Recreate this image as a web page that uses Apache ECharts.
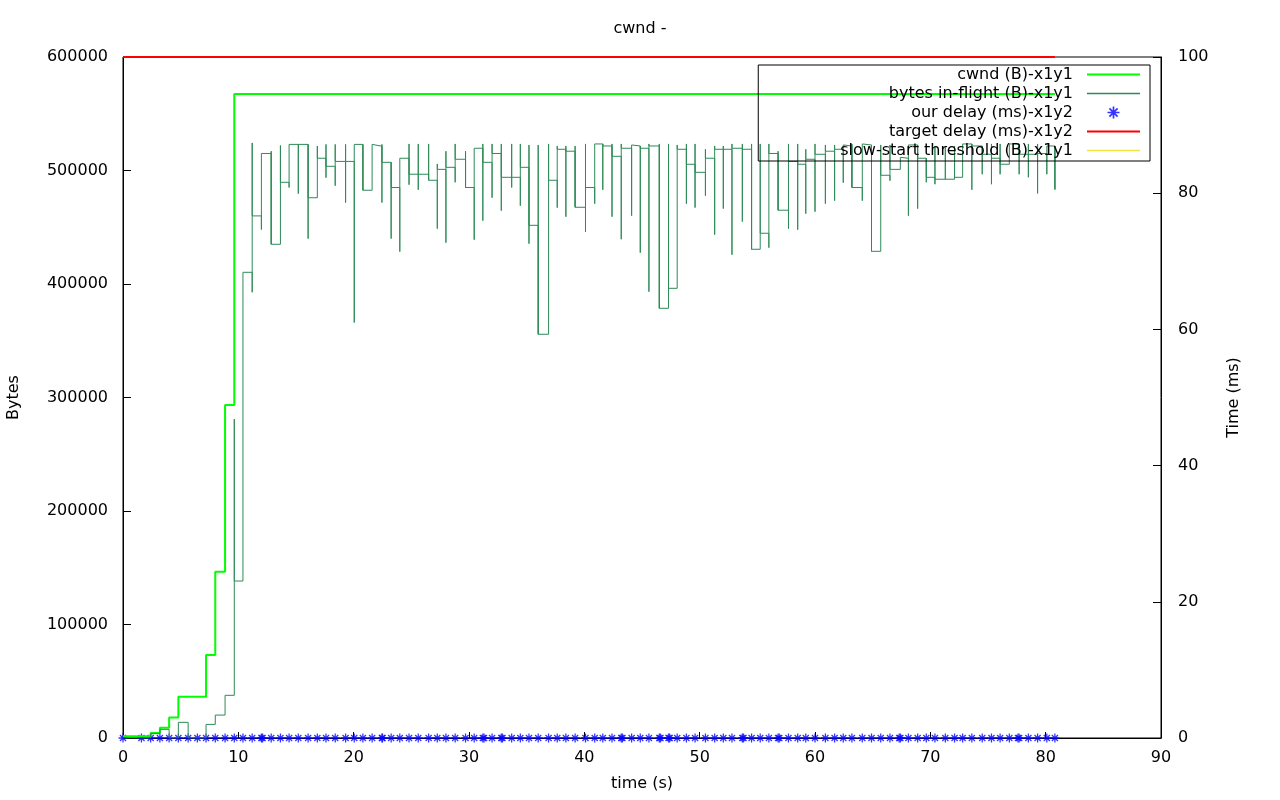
<!DOCTYPE html>
<html>
<head>
<meta charset="utf-8">
<title>cwnd</title>
<script src="https://cdn.jsdelivr.net/npm/echarts@6/dist/echarts.min.js"></script>
<style>
  html, body { margin: 0; padding: 0; background: #fff; }
  #chart { width: 1280px; height: 800px; }
</style>
</head>
<body>
<div id="chart"></div>
<script>
// sample times of the log (s)
var sampleT = [0, 1.6, 2.4, 3.2, 4.0, 4.8, 5.65, 6.45, 7.2, 8.0, 8.85, 9.65,
  10.4, 11.2, 12.0, 12.85, 13.65, 14.4, 15.2, 16.05, 16.85, 17.6, 18.4, 19.3,
  20.05, 20.8, 21.6, 22.45, 23.25, 24.0, 24.8, 25.6, 26.5, 27.25, 28.0, 28.8, 29.7,
  30.45, 31.2, 32.0, 32.8, 33.7, 34.45, 35.2, 36.0, 36.9, 37.65, 38.4, 39.2,
  40.1, 40.9, 41.6, 42.4, 43.2, 44.1, 44.85, 45.6, 46.5, 47.3, 48.05, 48.85, 49.6,
  50.5, 51.3, 52.05, 52.8, 53.7, 54.5, 55.25, 56.0, 56.8, 57.7, 58.5, 59.2,
  60.0, 60.9, 61.7, 62.45, 63.2, 64.1, 64.9, 65.7, 66.5, 67.4, 68.1, 68.9, 69.65,
  70.4, 71.3, 72.1, 72.8, 73.6, 74.5, 75.3, 76.05, 76.85, 77.7, 78.5, 79.3,
  80.1, 80.8];

// bytes in flight at each sample: dip, peak, and the level it settles at
var flightLow = [0, 0, 3800, 7600, 0, 13800, 0, 0, 12000, 20200, 37600, 37600,
  138300, 392700, 448000, 435000, 435000, 485000, 479600, 440000, 476000, 493700, 486600, 471700,
  366000, 482600, 482600, 471700, 440000, 428500, 487500, 483000, 491400, 448800, 436400, 489600, 485000,
  439000, 455800, 476000, 464600, 485000, 469000, 435500, 355700, 355700, 467300, 459300, 467600,
  446000, 470800, 483000, 459300, 439400, 460200, 427600, 393200, 378600, 378600, 396200, 470800, 467300,
  477800, 443500, 466400, 425800, 455000, 430600, 430600, 432000, 465000, 448800, 447900, 462000,
  463700, 470800, 473400, 489300, 485000, 473400, 428800, 428800, 491000, 501000, 460200, 466400, 489600,
  487900, 492300, 492300, 492300, 483000, 496700, 487900, 496700, 509900, 496700, 494000, 479800,
  496700, 483300];
var flightHigh = [0, 0, 3800, 7600, 0, 13800, 0, 0, 12000, 20200, 37600, 281000,
  410300, 524300, 515000, 517000, 522000, 523000, 523000, 523000, 521600, 523000, 523000, 523000,
  523000, 523000, 523000, 523000, 507200, 510800, 523400, 523400, 523400, 505800, 517000, 523400, 517000,
  519600, 523400, 523400, 523400, 523400, 523400, 522500, 522500, 523400, 521600, 521600, 521600,
  523400, 523400, 523400, 523400, 523400, 522500, 521600, 523400, 523400, 523400, 522500, 523400, 523400,
  518700, 521600, 521600, 523400, 523400, 523400, 523400, 523400, 517000, 523400, 523400, 518700,
  523400, 522500, 522500, 522500, 523400, 523400, 522500, 522500, 522500, 511600, 522500, 522500, 510800,
  521600, 521600, 521600, 523400, 523400, 521600, 523400, 523400, 523400, 521600, 523400, 523400,
  521600, 521600];
var flightLevel = [0, 0, 3800, 7600, 0, 13800, 0, 0, 12000, 20200, 37600, 138300,
  410300, 460000, 515000, 435000, 489600, 523000, 523000, 476000, 510800, 503700, 508000, 508000,
  523000, 482600, 521400, 507200, 485000, 510800, 496700, 496700, 491400, 501000, 502800, 509900, 485000,
  519600, 507200, 515000, 494000, 494000, 502800, 451700, 355700, 491400, 518700, 517000, 467600,
  485000, 523400, 521600, 512500, 519600, 521600, 519600, 521600, 378600, 396200, 518700, 505500, 498400,
  510800, 518700, 518700, 519600, 518700, 430600, 444700, 515000, 465000, 508000, 505500, 509900,
  514300, 517000, 518700, 521600, 485000, 522500, 428800, 495800, 501000, 510800, 522500, 510800, 494000,
  492300, 492300, 494000, 523400, 521600, 514300, 510800, 505500, 523400, 514300, 514300, 515000,
  521600, 483300];

// congestion window (B), changes only
var cwndT = [0, 2.4, 3.2, 4.0, 4.8, 7.2, 8.0, 8.85, 9.65, 80.8];
var cwndB = [1500, 4500, 9000, 18000, 36400, 73100, 146500, 293400, 567400, 567400];

// our delay (ms)
var delayT = [0, 1.6, 2.4, 3.2, 4.0, 4.8, 5.65, 6.45, 7.2, 8.0, 8.85, 9.65,
  10.4, 11.2, 12.0, 12.1, 12.85, 13.65, 14.4, 15.2, 16.05, 16.85, 17.6, 18.4, 19.3,
  20.05, 20.8, 21.6, 22.45, 22.5, 23.25, 24.0, 24.8, 25.6, 26.5, 27.25, 28.0, 28.8, 29.7,
  30.45, 31.2, 31.3, 32.0, 32.8, 32.9, 33.7, 34.45, 35.2, 36.0, 36.9, 37.65, 38.4, 39.2,
  40.1, 40.9, 41.6, 42.4, 43.2, 43.3, 44.1, 44.85, 45.6, 46.5, 46.6, 47.3, 47.4, 48.05, 48.85, 49.6,
  50.5, 51.3, 52.05, 52.8, 53.7, 53.8, 54.5, 55.25, 56.0, 56.8, 56.9, 57.7, 58.5, 59.2,
  60.0, 60.9, 61.7, 62.45, 63.2, 64.1, 64.9, 65.7, 66.5, 67.3, 67.4, 68.1, 68.9, 69.65,
  70.4, 71.3, 72.1, 72.8, 73.6, 74.5, 75.3, 76.05, 76.85, 77.6, 77.7, 78.5, 79.3,
  80.1, 80.8];
var delayMs = [0, 0, 0, 0, 0, 0, 0, 0, 0, 0, 0, 0,
  0, 0, 0, 0, 0, 0, 0, 0, 0, 0, 0, 0, 0,
  0, 0, 0, 0, 0, 0, 0, 0, 0, 0, 0, 0, 0, 0,
  0, 0, 0, 0, 0, 0, 0, 0, 0, 0, 0, 0, 0, 0,
  0, 0, 0, 0, 0, 0, 0, 0, 0, 0, 0, 0, 0, 0, 0, 0,
  0, 0, 0, 0, 0, 0, 0, 0, 0, 0, 0, 0, 0, 0,
  0, 0, 0, 0, 0, 0, 0, 0, 0, 0, 0, 0, 0, 0,
  0, 0, 0, 0, 0, 0, 0, 0, 0, 0, 0, 0, 0,
  0, 0];

// target delay (ms)
var targetT = [0, 80.8];
var targetMs = [100, 100];

// slow-start threshold (B): never shown inside the plot
var ssthreshT = [];
var ssthreshB = [];

var FONT = 'DejaVu Sans';
var ASTERISK = 'path://M0,4.3H10V5.7H0Z M4.3,0H5.7V10H4.3Z M1.1,2.1L2.1,1.1L8.9,7.9L7.9,8.9Z M7.9,1.1L8.9,2.1L2.1,8.9L1.1,7.9Z';
var THICK = 'path://M0,0H53V2H0Z';
var THIN = 'path://M0,0H53V1.3H0Z';

function zip(xs, ys) {
    var out = [];
    for (var i = 0; i < xs.length; i++) out.push([xs[i], ys[i]]);
    return out;
}
function plain(v) { return String(v); }

var flightData = [];
for (var i = 0; i < sampleT.length; i++) {
    flightData.push([sampleT[i], flightLow[i]]);
    flightData.push([sampleT[i], flightHigh[i]]);
    flightData.push([sampleT[i], flightLevel[i]]);
}

var myChart = echarts.init(document.getElementById('chart'), null, { renderer: 'canvas' });
var option = {
    animation: false,
    backgroundColor: '#fff',
    textStyle: { fontFamily: FONT, color: '#000' },
    title: {
        text: 'cwnd -',
        left: 'center',
        top: 16,
        textStyle: { fontFamily: FONT, fontSize: 16, fontWeight: 'normal', color: '#000' }
    },
    legend: {
        orient: 'vertical',
        align: 'right',
        right: 130,
        top: 65,
        itemWidth: 53,
        itemHeight: 12,
        itemGap: 0,
        padding: [0, 10, 1, 82],
        borderColor: '#000',
        borderWidth: 1,
        backgroundColor: 'transparent',
        textStyle: { fontFamily: FONT, fontSize: 16, color: '#000', lineHeight: 19, padding: [0, 9, 0, 0] },
        data: [
            { name: 'cwnd (B)-x1y1', icon: THICK },
            { name: 'bytes in-flight (B)-x1y1', icon: THIN },
            { name: 'our delay (ms)-x1y2', icon: ASTERISK },
            { name: 'target delay (ms)-x1y2', icon: THICK },
            { name: 'slow-start threshold (B)-x1y1', icon: THIN }
        ]
    },
    grid: {
        left: 123, right: 119, top: 57, bottom: 62,
        outerBoundsMode: 'none',
        containLabel: false,
        show: true, borderColor: '#000', borderWidth: 1, backgroundColor: 'transparent'
    },
    xAxis: {
        type: 'value',
        min: 0, max: 90, interval: 10,
        name: 'time (s)',
        nameLocation: 'middle',
        nameGap: 38,
        nameTextStyle: { fontFamily: FONT, fontSize: 16, color: '#000' },
        axisLine: { lineStyle: { color: '#000', width: 1 } },
        axisTick: { inside: true, length: 6, lineStyle: { color: '#000' } },
        axisLabel: { fontFamily: FONT, fontSize: 16, color: '#000', margin: 12, formatter: plain },
        splitLine: { show: false }
    },
    yAxis: [{
        type: 'value',
        min: 0, max: 600000, interval: 100000,
        name: 'Bytes',
        nameLocation: 'middle',
        nameGap: 101,
        nameTextStyle: { fontFamily: FONT, fontSize: 16, color: '#000' },
        axisLine: { show: true, lineStyle: { color: '#000', width: 1 } },
        axisTick: { show: true, inside: true, length: 8, lineStyle: { color: '#000' } },
        axisLabel: { fontFamily: FONT, fontSize: 16, color: '#000', margin: 15, formatter: plain },
        splitLine: { show: false }
    }, {
        type: 'value',
        position: 'right',
        min: 0, max: 100, interval: 20,
        name: 'Time (ms)',
        nameLocation: 'middle',
        nameGap: 65,
        nameTextStyle: { fontFamily: FONT, fontSize: 16, color: '#000' },
        axisLine: { show: true, lineStyle: { color: '#000', width: 1 } },
        axisTick: { show: true, inside: true, length: 8, lineStyle: { color: '#000' } },
        axisLabel: { fontFamily: FONT, fontSize: 16, color: '#000', margin: 17, formatter: plain },
        splitLine: { show: false }
    }],
    series: [{
        name: 'cwnd (B)-x1y1',
        type: 'line',
        yAxisIndex: 0,
        step: 'end',
        symbol: 'none',
        color: '#00ff00',
        lineStyle: { color: '#00ff00', width: 2 },
        data: zip(cwndT, cwndB)
    }, {
        name: 'bytes in-flight (B)-x1y1',
        type: 'line',
        yAxisIndex: 0,
        step: 'end',
        symbol: 'none',
        color: '#2e8b57',
        lineStyle: { color: '#2e8b57', width: 1 },
        data: flightData
    }, {
        name: 'our delay (ms)-x1y2',
        type: 'scatter',
        yAxisIndex: 1,
        symbol: ASTERISK,
        symbolSize: 9,
        color: '#0000ff',
        itemStyle: { color: '#0000ff' },
        data: zip(delayT, delayMs)
    }, {
        name: 'target delay (ms)-x1y2',
        type: 'line',
        yAxisIndex: 1,
        symbol: 'none',
        color: '#ff0000',
        lineStyle: { color: '#ff0000', width: 2 },
        data: zip(targetT, targetMs)
    }, {
        name: 'slow-start threshold (B)-x1y1',
        type: 'line',
        yAxisIndex: 0,
        step: 'end',
        symbol: 'none',
        color: '#f0e442',
        lineStyle: { color: '#f0e442', width: 1 },
        data: zip(ssthreshT, ssthreshB)
    }]
};

myChart.setOption(option);
</script>
</body>
</html>
